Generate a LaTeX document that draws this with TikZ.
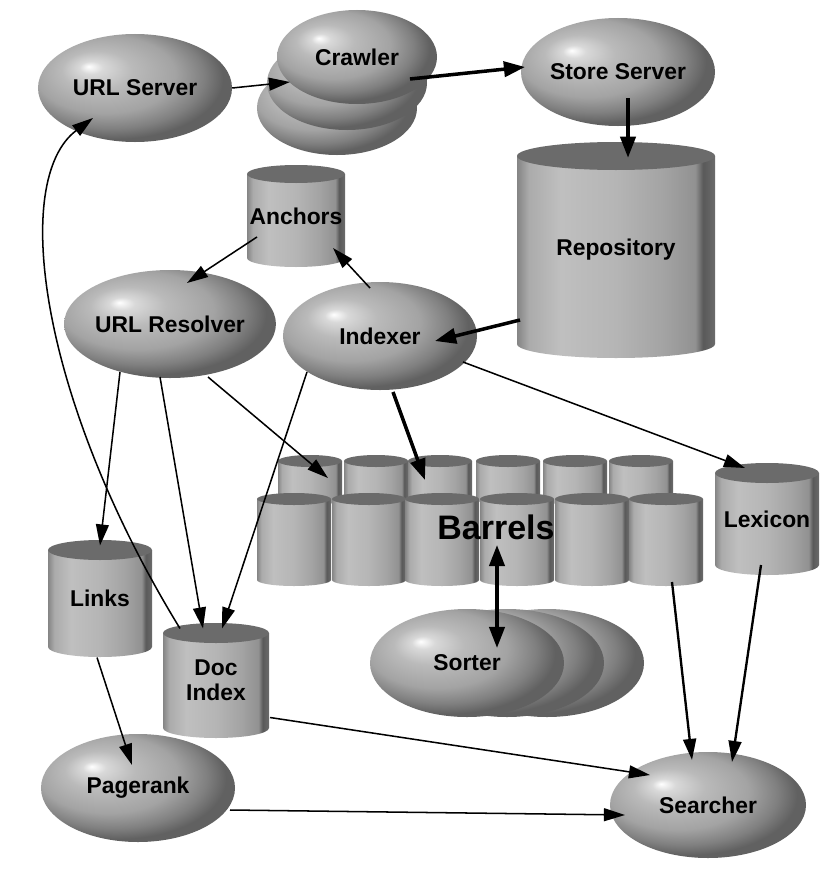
\documentclass[tikz,border=0pt]{standalone}
\usepackage{fontspec}
\setmainfont{Liberation Sans}
\usetikzlibrary{arrows.meta,shapes.geometric,calc}
\pgfdeclareradialshading{gball}{\pgfpoint{-12bp}{10bp}}{color(0bp)=(white); color(3bp)=(white!85!black); color(9bp)=(black!27); color(18bp)=(black!36); color(24bp)=(black!50); color(28bp)=(black!62); color(50bp)=(black!62)}
\pgfdeclarehorizontalshading{gcyl}{100bp}{color(0bp)=(black!48); color(25bp)=(black!48); color(28bp)=(black!33); color(36bp)=(black!25); color(50bp)=(black!29); color(62bp)=(black!36); color(70bp)=(black!43); color(72bp)=(black!65); color(75bp)=(black!58); color(100bp)=(black!58)}
\colorlet{capgray}{black!58}
\newcommand\lblfont{\fontsize{19.5}{21}\selectfont\bfseries}
\newcommand\cylshape[5]{% cx, cap top, bottom, half width, ry
  \pgfmathsetmacro\cyT{#2+#5}\pgfmathsetmacro\cyB{#3-#5}%
  \shade[shading=gcyl] ({#1-#4},\cyT) -- ({#1-#4},\cyB) arc[start angle=180,end angle=0,x radius=#4,y radius=#5] -- ({#1+#4},\cyT) -- cycle;
  \fill[capgray] (#1,\cyT) ellipse[x radius=#4,y radius=#5];
}
\newcommand\gcyl[7]{% name, cx, cap top, bottom, half width, ry, text
  \cylshape{#2}{#3}{#4}{#5}{#6}%
  \node[cylbox, minimum width={2*#5*0.03cm}, minimum height={(#4-#3)*0.03cm}] (#1) at (#2,{(#3+#4)/2}) {#7};
}
\tikzset{
  ell/.style={ellipse, shade, shading=gball, inner sep=0pt, minimum width=5.82cm, minimum height=3.24cm, font=\lblfont},
  crawl/.style={ell, minimum width=4.8cm, minimum height=2.82cm},
  cylbox/.style={rectangle, inner sep=0pt, align=center, font=\lblfont},
  conn/.style={line width=1.3pt, -{Triangle[length=18pt,width=11pt]}},
  medconn/.style={line width=2pt, -{Triangle[length=18pt,width=11pt]}},
  fatconn/.style={line width=3pt, -{Triangle[length=18pt,width=13pt]}},
}
\begin{document}
\begin{tikzpicture}[x=0.03cm,y=-0.03cm]
\useasboundingbox (0,0) rectangle (833,895);
\fill[white] (0,0) rectangle (833,895);

% ellipses
\node[ell] (urlserver) at (135,88) {URL Server};
\node[crawl] (crawler3) at (337,108) {};
\node[crawl] (crawler2) at (347,83) {};
\node[crawl] (crawler) at (357,57) {Crawler};
\node[ell] (storeserver) at (618,72) {Store Server};
\node[ell] (urlresolver) at (170,324) {URL Resolver};
\node[ell] (indexer) at (380,336) {Indexer};
\node[ell] (pagerank) at (138,788) {Pagerank};
\node[ell, minimum width=5.88cm, minimum height=3.18cm] (searcher) at (708,805) {Searcher};

% cylinders
\gcyl{repository}{616}{142}{358}{99}{14}{Repository}
\gcyl{anchors}{296}{165}{267}{49}{9}{Anchors}
\gcyl{links}{100}{540}{657}{52}{10}{Links}
\gcyl{docindex}{216}{623}{738}{53}{10}{Doc\\Index}
\gcyl{lexicon}{767}{463}{575}{52}{10}{Lexicon}

% barrels
\foreach \cx in {310,376,440,508,575,641} {\cylshape{\cx}{455}{505}{32}{6}}
\foreach \cx in {294,369,442,517,592,666} {\cylshape{\cx}{493}{586}{37}{6}}
\node[font=\fontsize{29}{32}\selectfont\bfseries, inner sep=0pt] (barrels) at (496,527) {Barrels};

% sorter stack
\node[ell] (sorter3) at (547,663) {};
\node[ell] (sorter2) at (507,663) {};
\node[ell] (sorter) at (467,663) {Sorter};

% connectors
\draw[conn] (urlserver.east) -- ($(crawler)+(-67,25)$);
\draw[fatconn] ($(crawler)+(53,22)$) -- ($(storeserver)+(-93,-5)$);
\draw[fatconn] ($(storeserver)+(10,26)$) -- ($(repository.north)+(12,16)$);
\draw[fatconn] ($(repository)+(-96,70)$) -- ($(indexer)+(55,5)$);
\draw[conn] ($(indexer)+(-10,-48)$) -- ($(anchors)+(37,32)$);
\draw[conn] ($(anchors)+(-39,21)$) -- ($(urlresolver)+(17,-41)$);
\draw[conn] ($(urlresolver)+(-50,48)$) -- ($(links)+(0,-53)$);
\draw[conn] ($(urlresolver)+(-10,53)$) -- ($(docindex)+(-13,-52)$);
\draw[conn] ($(indexer)+(-73,36)$) -- ($(docindex)+(6,-52)$);
\draw[conn] ($(urlresolver)+(38,53)$) -- ($(barrels)+(-168,-49)$);
\draw[fatconn] ($(indexer)+(13,56)$) -- ($(barrels)+(-71,-47)$);
\draw[conn] ($(indexer)+(83,26)$) -- ($(lexicon)+(-22,-51)$);
\draw[fatconn, {Triangle[length=18pt,width=13pt]}-{Triangle[length=18pt,width=13pt]}] ($(barrels)+(1,18)$) -- ($(sorter)+(30,-15)$);
\draw[medconn] ($(barrels)+(176,55)$) -- ($(searcher)+(-16,-45)$);
\draw[medconn] ($(lexicon)+(-6,46)$) -- ($(searcher)+(24,-43)$);
\draw[conn] ($(docindex)+(54,37)$) -- ($(searcher)+(-58,-30)$);
\draw[conn] ($(pagerank)+(92,22)$) -- ($(searcher)+(-83,10)$);
\draw[conn] ($(links)+(-3,59)$) -- ($(pagerank)+(-6,-23)$);
\draw[conn] ($(docindex)+(-36,-52)$) .. controls (40,400) and (10,180) .. ($(urlserver)+(-42,30)$);
\end{tikzpicture}
\end{document}
